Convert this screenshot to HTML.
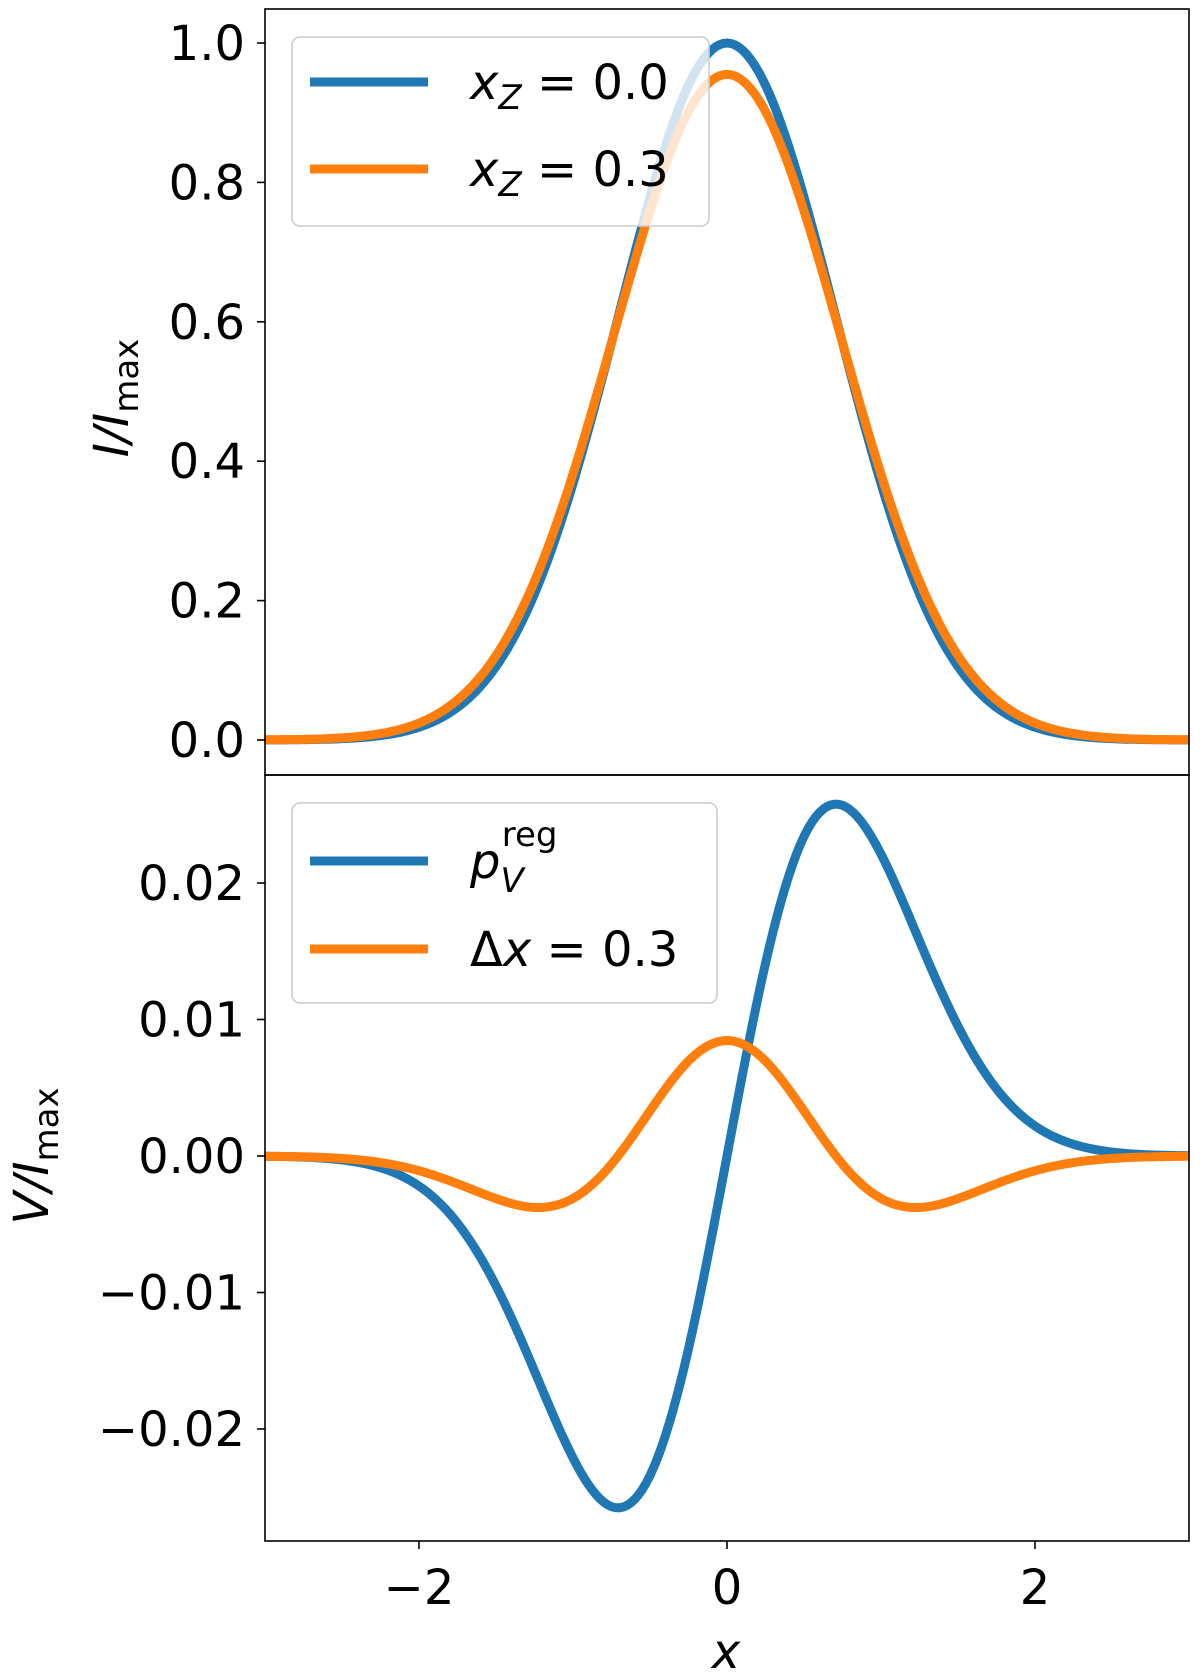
<!DOCTYPE html>
<html><head><meta charset="utf-8"><style>
body{margin:0;background:#fff}
svg{display:block;font-family:"DejaVu Sans","Liberation Sans",sans-serif}
</style></head><body>
<svg id="chart" width="1200" height="1678" viewBox="0 0 1200 1678"></svg>
<script>
const xs=[-3,-2.75,-2.5,-2.25,-2,-1.75,-1.5,-1.25,-1,-0.75,-0.5,-0.25,0,0.25,0.5,0.75,1,1.25,1.5,1.75,2,2.25,2.5,2.75,3];
const iBlue=[0.0001,0.0005,0.0019,0.0063,0.0183,0.0468,0.1054,0.2096,0.3679,0.5698,0.7788,0.9394,1,0.9394,0.7788,0.5698,0.3679,0.2096,0.1054,0.0468,0.0183,0.0063,0.0019,0.0005,0.0001];
const iOrange=[0.0003,0.0009,0.0031,0.0092,0.0243,0.0575,0.1212,0.2278,0.3816,0.570,0.759,0.9018,0.955,0.9018,0.759,0.570,0.3816,0.2278,0.1212,0.0575,0.0243,0.0092,0.0031,0.0009,0.0003];
const vBlue=[-0.00002,-0.00008,-0.00029,-0.00086,-0.00220,-0.00492,-0.00951,-0.01575,-0.02212,-0.02569,-0.02341,-0.01412,0,0.01412,0.02341,0.02569,0.02212,0.01575,0.00951,0.00492,0.00220,0.00086,0.00029,0.00008,0.00002];
const vOrange=[-0.00002,-0.00006,-0.00018,-0.00048,-0.00108,-0.00203,-0.00312,-0.00377,-0.00311,-0.00060,0.00330,0.00696,0.00846,0.00696,0.00330,-0.00060,-0.00311,-0.00377,-0.00312,-0.00203,-0.00108,-0.00048,-0.00018,-0.00006,-0.00002];
const xTicks=[-2,0,2];
const xTickLabels=["\u22122","0","2"];
const topTicks=[0,0.2,0.4,0.6,0.8,1.0];
const topTickLabels=["0.0","0.2","0.4","0.6","0.8","1.0"];
const botTicks=[-0.02,-0.01,0,0.01,0.02];
const botTickLabels=["\u22120.02","\u22120.01","0.00","0.01","0.02"];

const NS="http://www.w3.org/2000/svg";
const svg=document.getElementById('chart');
const L=265,R=1189;
const sx=x=>L+(x+3)*(R-L)/6;
const syTop=v=>740-v*697;
const syBot=v=>1156-v*13650;
function mk(tag,attrs,parent){const e=document.createElementNS(NS,tag);for(const k in attrs)e.setAttribute(k,attrs[k]);(parent||svg).appendChild(e);return e;}
// natural cubic spline through data points, sampled finely
function pathD(ys,sy){
  const n=xs.length,h=xs[1]-xs[0];
  const a=new Array(n).fill(0),b=new Array(n).fill(0),c=new Array(n).fill(0),d=new Array(n).fill(0),M=new Array(n).fill(0);
  for(let i=1;i<n-1;i++){a[i]=1;b[i]=4;c[i]=1;d[i]=6*(ys[i+1]-2*ys[i]+ys[i-1])/(h*h);}
  b[0]=1;b[n-1]=1;
  for(let i=1;i<n;i++){const m=a[i]/b[i-1];b[i]-=m*c[i-1];d[i]-=m*d[i-1];}
  M[n-1]=d[n-1]/b[n-1];
  for(let i=n-2;i>=0;i--)M[i]=(d[i]-c[i]*M[i+1])/b[i];
  let s='';
  for(let i=0;i<n-1;i++){
    for(let k=0;k<(i==n-2?11:10);k++){
      const t=k/10,x=xs[i]+t*h,A=1-t,B=t;
      const y=A*ys[i]+B*ys[i+1]+((A*A*A-A)*M[i]+(B*B*B-B)*M[i+1])*h*h/6;
      s+=(s?'L':'M')+sx(x).toFixed(2)+','+sy(y).toFixed(2);
    }
  }
  return s;
}
const defs=mk('defs',{});
const c1=mk('clipPath',{id:'ct'},defs);mk('rect',{x:L,y:9,width:R-L,height:766},c1);
const c2=mk('clipPath',{id:'cb'},defs);mk('rect',{x:L,y:775,width:R-L,height:766},c2);

const gT=mk('g',{'clip-path':'url(#ct)'});


let e=mk('path',{d:pathD(iBlue,syTop),fill:'none',stroke:'#1f77b4','stroke-width':9,'stroke-linejoin':'round'},gT);


e=mk('path',{d:pathD(iOrange,syTop),fill:'none',stroke:'#ff7f0e','stroke-width':9,'stroke-linejoin':'round'},gT);



const gB=mk('g',{'clip-path':'url(#cb)'});


e=mk('path',{d:pathD(vBlue,syBot),fill:'none',stroke:'#1f77b4','stroke-width':9,'stroke-linejoin':'round'},gB);


e=mk('path',{d:pathD(vOrange,syBot),fill:'none',stroke:'#ff7f0e','stroke-width':9,'stroke-linejoin':'round'},gB);



e=mk('rect',{x:L,y:9,width:R-L,height:766,fill:'none',stroke:'#000','stroke-width':1.6});


e=mk('rect',{x:L,y:775,width:R-L,height:766,fill:'none',stroke:'#000','stroke-width':1.6});



topTicks.forEach((v,i)=>{
  const y=syTop(v);
  mk('line',{x1:L-8,x2:L,y1:y,y2:y,stroke:'#000','stroke-width':1.6});
  const t=mk('text',{x:L-20,y:y+17,'text-anchor':'end','font-size':48});
  t.textContent=topTickLabels[i];
  
  
});
botTicks.forEach((v,i)=>{
  const y=syBot(v);
  mk('line',{x1:L-8,x2:L,y1:y,y2:y,stroke:'#000','stroke-width':1.6});
  const t=mk('text',{x:L-20,y:y+17,'text-anchor':'end','font-size':48});
  t.textContent=botTickLabels[i];
  
  
});
xTicks.forEach((v,i)=>{
  const x=sx(v);
  mk('line',{x1:x,x2:x,y1:1541,y2:1549,stroke:'#000','stroke-width':1.6});
  const t=mk('text',{x:x,y:1604,'text-anchor':'middle','font-size':48});
  t.textContent=xTickLabels[i];
  
  
});
</script>
<svg width="1200" height="1678" style="position:absolute;left:0;top:0;font-family:'DejaVu Sans','Liberation Sans',sans-serif">
  <text x="726" y="1668" text-anchor="middle" font-size="48" font-style="italic">x</text>
  <text transform="translate(128,398) rotate(-90)" text-anchor="middle" font-size="48" font-style="italic">I/I<tspan font-style="normal" font-size="34" dy="10">max</tspan></text>
  <text transform="translate(48,1156) rotate(-90)" text-anchor="middle" font-size="48" font-style="italic">V/I<tspan font-style="normal" font-size="34" dy="10">max</tspan></text>
  <g>
    <rect x="292" y="37" width="417" height="189" rx="8" fill="#fff" fill-opacity="0.8" stroke="#ccc" stroke-width="1.6"/>
    <line x1="310" x2="428" y1="82" y2="82" stroke="#1f77b4" stroke-width="9"/>
    <text x="470" y="99" font-size="48"><tspan font-style="italic">x</tspan><tspan font-style="italic" font-size="34" dy="10">Z</tspan><tspan dy="-10"> = 0.0</tspan></text>
    <line x1="310" x2="428" y1="169" y2="169" stroke="#ff7f0e" stroke-width="9"/>
    <text x="470" y="186" font-size="48"><tspan font-style="italic">x</tspan><tspan font-style="italic" font-size="34" dy="10">Z</tspan><tspan dy="-10"> = 0.3</tspan></text>
  </g>
  <g>
    <rect x="292" y="803" width="425" height="200" rx="8" fill="#fff" fill-opacity="0.8" stroke="#ccc" stroke-width="1.6"/>
    <line x1="310" x2="428" y1="861" y2="861" stroke="#1f77b4" stroke-width="9"/>
    <text x="470" y="878" font-size="48" font-style="italic">p<tspan font-size="34" dy="14">V</tspan><tspan font-style="normal" font-size="34" dx="-22" dy="-46">reg</tspan></text>
    <line x1="310" x2="428" y1="949" y2="949" stroke="#ff7f0e" stroke-width="9"/>
    <text x="470" y="966" font-size="48">Δ<tspan font-style="italic">x</tspan> = 0.3</text>
  </g>
</svg>
</body></html>
